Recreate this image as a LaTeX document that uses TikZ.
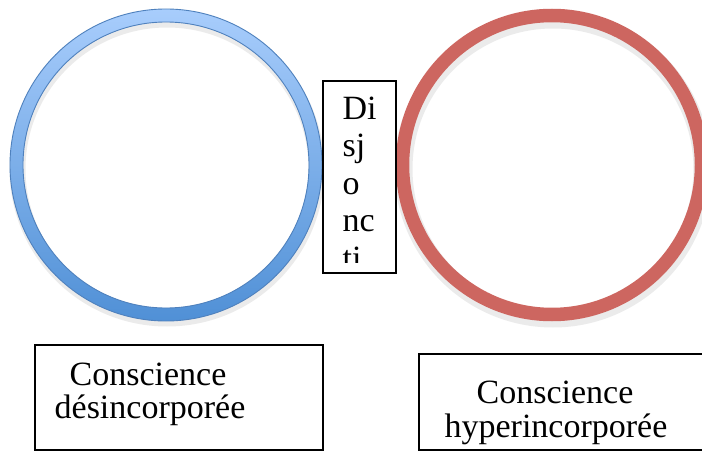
\documentclass[tikz,border=0pt]{standalone}
\usepackage{fontspec}
\setmainfont{Liberation Serif}
\usetikzlibrary{positioning}
\definecolor{ringblue}{RGB}{79,129,189}
\definecolor{blueup}{RGB}{168,205,252}
\definecolor{bluedown}{RGB}{80,144,214}
\definecolor{ringred}{RGB}{205,102,96}
\tikzstyle{lbl}=[inner sep=0pt, anchor=base,
    font=\fontsize{34}{36}\selectfont]
\tikzstyle{frame}=[draw=black, line width=1.2pt, fill=white,
    inner sep=0pt]
\tikzstyle{shadow}=[black, opacity=0.08, line width=16pt]
\def\ringout{156}
\def\ringin{143}

\begin{document}
\begin{tikzpicture}[x=1pt, y=-1pt]
    \clip (0,0) rectangle (702,452);
    \fill[white] (0,0) rectangle (702,452);
    \coordinate (cl) at (166,165);
    \coordinate (cr) at (552,165);
    % soft shadows under the rings
    \path (cl)+(1,4) coordinate (cls);
    \path (cr)+(1,4) coordinate (crs);
    \draw[shadow] (cls) circle (149.5pt);
    \draw[shadow, line width=18pt] (crs) circle (149.5pt);
    % left ring, shaded
    \path[even odd rule, top color=blueup, bottom color=bluedown]
        (cl) circle (\ringout pt) (cl) circle (\ringin pt);
    \draw[ringblue, line width=0.9pt]
        (cl) circle (\ringout pt) (cl) circle (\ringin pt);
    % right ring
    \draw[ringred, line width=13.5pt] (cr) circle (149.5pt);
    % middle box
    \node (disj) [frame, minimum width=73pt, minimum height=192pt]
        at (359.5,177) {};
    \begin{scope}
        \clip (324,82) rectangle (395,262);
        \foreach \w [count=\i] in {Di,sj,o,nc,ti}
            \path (disj.north west)+(20,1.5+37.5*\i)
                node (d\i) [lbl, anchor=base west] {\w};
    \end{scope}
    % bottom boxes
    \node (lbox) [frame, minimum width=288pt, minimum height=105pt]
        at (179,397.5) {};
    \node (rbox) [frame, minimum width=291pt, minimum height=96pt]
        at (564.5,402) {};
    \node (ltop) [lbl] at (148,385) {Conscience};
    \node (lbot) [lbl] at (150,418) {désincorporée};
    \node (rtop) [lbl] at (555,403) {Conscience};
    \node (rbot) [lbl] at (556,437) {hyperincorporée};
\end{tikzpicture}
\end{document}
